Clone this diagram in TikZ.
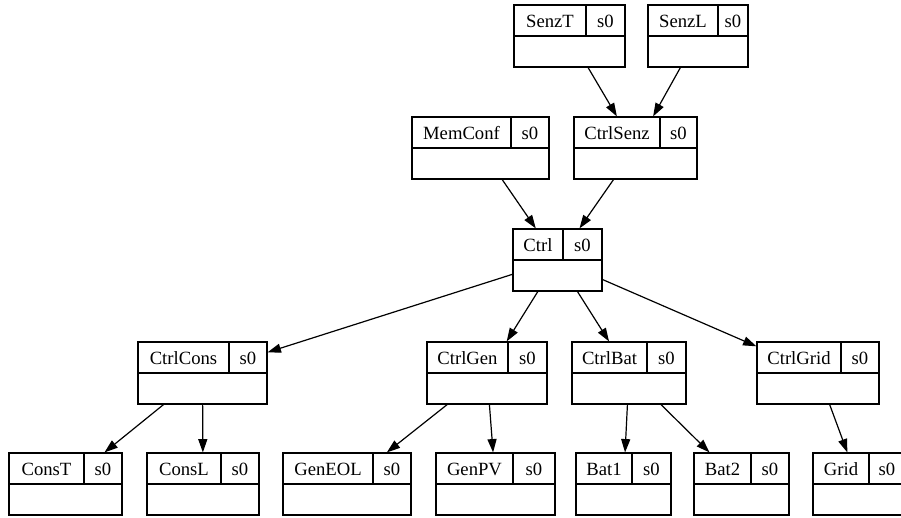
\documentclass[tikz,border=0pt]{standalone}
\usepackage{fontspec}
\setmainfont{Liberation Serif}
\usetikzlibrary{arrows.meta,fit}

\begin{document}
\begin{tikzpicture}[x=0.75pt,y=-0.75pt,
  rec/.style={draw,line width=0.9pt,inner sep=0pt},
  lab/.style={inner sep=0pt,font=\fontsize{14}{16}\selectfont},
  edge/.style={line width=0.9pt,-{Triangle[length=10pt,width=6.8pt]}}]
  \clip (0,0) rectangle (901,518);
  % records: name / left / divider / right / top
  \foreach \id/\xa/\xd/\xb/\yt in {SenzT/514/586/625/5, SenzL/648/718/748/5,
      MemConf/412/511/549/117, CtrlSenz/574/660/697/117,
      Ctrl/513/563/602/229,
      CtrlCons/138/229/267/342, CtrlGen/427/508/547/342, CtrlBat/572/647/686/342, CtrlGrid/757/841/879/342,
      ConsT/9/84/122/453, ConsL/147/221/259/453, GenEOL/283/373/411/453, GenPV/436/513/555/453,
      Bat1/576/632/671/453, Bat2/694/751/789/453, Grid/813/869/905/453} {
    \node[rec,fit={(\xa,\yt) (\xb,\yt+62)}] (\id) {};
    \draw[line width=0.9pt] (\id.west) -- (\id.east);
    \draw[line width=0.9pt] (\xd,\yt) -- (\xd,\yt+31);
    \node[lab] (\id-name) at ({(\xa+\xd)/2},\yt+16) {\id};
    \node[lab] (\id-s) at ({(\xd+\xb)/2},\yt+16) {s0};
  }
  % connectors
  \foreach \a/\b in {SenzT/CtrlSenz, SenzL/CtrlSenz, MemConf/Ctrl, CtrlSenz/Ctrl,
      Ctrl/CtrlCons, Ctrl/CtrlGen, Ctrl/CtrlBat, Ctrl/CtrlGrid,
      CtrlCons/ConsT, CtrlCons/ConsL, CtrlGen/GenEOL, CtrlGen/GenPV,
      CtrlBat/Bat1, CtrlBat/Bat2, CtrlGrid/Grid}
    \draw[edge] (\a) -- (\b);
\end{tikzpicture}
\end{document}
